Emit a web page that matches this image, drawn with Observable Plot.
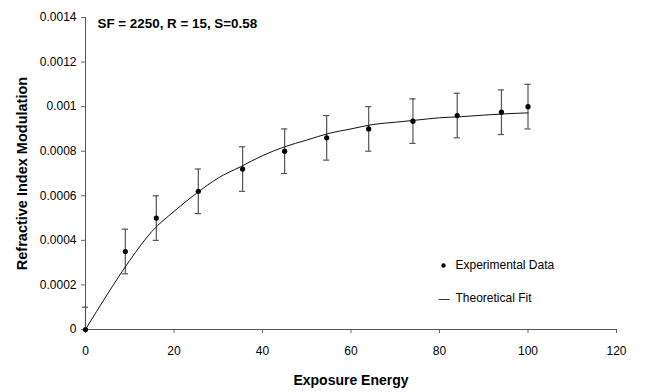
<!DOCTYPE html>
<html>
<head>
<meta charset="utf-8">
<script src="https://cdn.jsdelivr.net/npm/d3@7"></script>
<script src="https://cdn.jsdelivr.net/npm/@observablehq/plot@0.6"></script>
<style>
  html, body { margin: 0; padding: 0; background: #fff; }
  #chart { width: 647px; height: 392px; }
</style>
</head>
<body>
<div id="chart"></div>
<script>
const energy = [0, 9, 16, 25.5, 35.5, 45, 54.5, 64, 74, 84, 94, 100];
const modulation = [0, 0.00035, 0.0005, 0.00062, 0.00072, 0.0008, 0.00086, 0.0009, 0.000935, 0.00096, 0.000975, 0.001];
const errors = [0.0001, 0.0001, 0.0001, 0.0001, 0.0001, 0.0001, 0.0001, 0.0001, 0.0001, 0.0001, 0.0001, 0.0001];

// Theoretical fit curve
const fitEnergy = [0, 5, 10, 15, 20, 25, 30, 35, 40, 45, 50, 55, 60, 65, 70, 75, 80, 85, 90, 95, 100];
const fitModulation = [0, 0.00016, 0.00031, 0.00044, 0.00053, 0.00061, 0.00068, 0.00073, 0.00078, 0.00082, 0.00085, 0.00088, 0.0009, 0.00092, 0.00093, 0.00094, 0.00095, 0.000955, 0.000962, 0.000968, 0.000972];

// Axis ticks
const xTicks = [0, 20, 40, 60, 80, 100, 120];
const xTickLabels = ["0", "20", "40", "60", "80", "100", "120"];
const yTicks = [0, 0.0002, 0.0004, 0.0006, 0.0008, 0.001, 0.0012, 0.0014];
const yTickLabels = ["0", "0.0002", "0.0004", "0.0006", "0.0008", "0.001", "0.0012", "0.0014"];

// Text
const xLabel = "Exposure Energy";
const yLabel = "Refractive Index Modulation";
const annotation = "SF = 2250, R = 15, S=0.58";
const legendLabels = ["Experimental Data", "Theoretical Fit"];

const points = energy.map((e, i) => ({
  x: e, y: modulation[i],
  lo: Math.max(0, modulation[i] - errors[i]),
  hi: modulation[i] + errors[i]
}));
const fit = fitEnergy.map((e, i) => ({x: e, y: fitModulation[i]}));

const capHalf = 0.7; // half-width of error-bar caps in x units
const font = "Liberation Sans, Arial, Helvetica, sans-serif";

const chart = Plot.plot({
  width: 647,
  height: 392,
  marginLeft: 85,
  marginRight: 31,
  marginTop: 17,
  marginBottom: 63,
  style: {fontFamily: font, fontSize: "12px", color: "#000", background: "#fff"},
  x: {domain: [0, 120]},
  y: {domain: [0, 0.0014]},
  marks: [
    Plot.axisX({ticks: xTicks, tickFormat: (d, i) => xTickLabels[i], tickSize: 4, tickPadding: 13, label: null, stroke: "#666", fontSize: 12, fill: "#000"}),
    Plot.axisY({ticks: yTicks, tickFormat: (d, i) => yTickLabels[i], tickSize: 4, tickPadding: 5, label: null, stroke: "#666", fontSize: 12, fill: "#000"}),
    Plot.ruleY([0], {stroke: "#555", strokeWidth: 1.2}),
    Plot.ruleX([0], {stroke: "#555", strokeWidth: 1}),
    // error bars
    Plot.ruleX(points, {x: "x", y1: "lo", y2: "hi", stroke: "#555", strokeWidth: 1.2}),
    Plot.ruleY(points, {y: "hi", x1: d => d.x - capHalf, x2: d => d.x + capHalf, stroke: "#555", strokeWidth: 1.2}),
    Plot.ruleY(points.filter(d => d.lo > 0), {y: "lo", x1: d => d.x - capHalf, x2: d => d.x + capHalf, stroke: "#555", strokeWidth: 1.2}),
    // fit curve
    Plot.line(fit, {x: "x", y: "y", stroke: "#111", strokeWidth: 1, curve: "monotone-x"}),
    // data points
    Plot.dot(points, {x: "x", y: "y", r: 2.6, fill: "#000", stroke: "none"}),
    // annotation
    Plot.text([annotation], {frameAnchor: "top-left", text: d => d, dx: 12, dy: 6, textAnchor: "start", lineAnchor: "middle", fontWeight: "bold", fontSize: 13.4, fill: "#000"}),
    // axis labels
    Plot.text([xLabel], {frameAnchor: "bottom", text: d => d, dy: 51, textAnchor: "middle", lineAnchor: "middle", fontWeight: "bold", fontSize: 14, fill: "#000"}),
    Plot.text([yLabel], {frameAnchor: "left", text: d => d, dx: -63, rotate: -90, textAnchor: "middle", lineAnchor: "middle", fontWeight: "bold", fontSize: 14.5, fill: "#000"}),
    // legend
    Plot.dot([0], {frameAnchor: "bottom-left", dx: 358, dy: -64, r: 2.2, fill: "#000", stroke: "none"}),
    Plot.text([legendLabels[0]], {frameAnchor: "bottom-left", text: d => d, dx: 370, dy: -64, textAnchor: "start", lineAnchor: "middle", fontSize: 12, fill: "#000"}),
    Plot.text(["—"], {frameAnchor: "bottom-left", text: d => d, dx: 353, dy: -31, textAnchor: "start", lineAnchor: "middle", fontSize: 11, fill: "#000"}),
    Plot.text([legendLabels[1]], {frameAnchor: "bottom-left", text: d => d, dx: 370, dy: -31, textAnchor: "start", lineAnchor: "middle", fontSize: 12, fill: "#000"})
  ]
});
document.getElementById("chart").appendChild(chart);
</script>
</body>
</html>
